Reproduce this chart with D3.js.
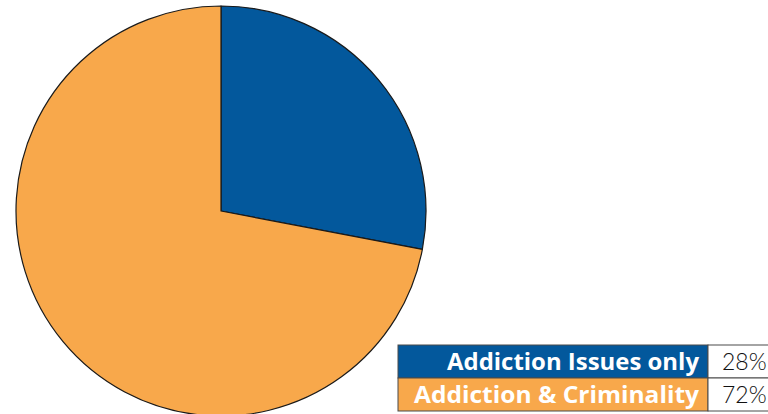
<!DOCTYPE html>
<html>
<head>
<meta charset="utf-8">
<script src="https://cdn.jsdelivr.net/npm/d3@7"></script>
<style>
  html, body { margin: 0; padding: 0; background: #fff; overflow: hidden; }
  svg { display: block; }
</style>
</head>
<body>
<svg id="chart" width="768" height="414"></svg>
<script>
// Share of cases by type
const categories = ["Addiction Issues only", "Addiction & Criminality"];
const values = [28, 72];
const valueLabels = ["28%", "72%"];
const colors = ["#03589c", "#f8a84b"];

const svg = d3.select("#chart");
const cx = 221, cy = 211, r = 205;

const pie = d3.pie().sort(null).value(d => d)(values);
const arc = d3.arc().innerRadius(0).outerRadius(r);

svg.append("g")
  .attr("transform", `translate(${cx},${cy})`)
  .selectAll("path")
  .data(pie)
  .join("path")
  .attr("d", arc)
  .attr("fill", (d, i) => colors[i])
  .attr("stroke", "#1a1a1a")
  .attr("stroke-width", 1.2)
  .attr("stroke-linejoin", "round");

// Legend table
const tx = 398, ty = 345, rowH = 33, labelW = 310, valueW = 70;
const y = d3.scaleBand().domain(categories).range([ty, ty + rowH * categories.length]);

const rows = svg.append("g").selectAll("g").data(categories).join("g")
  .attr("transform", d => `translate(0,${y(d)})`);

rows.append("rect")
  .attr("x", tx).attr("y", 0)
  .attr("width", labelW).attr("height", y.bandwidth())
  .attr("fill", (d, i) => colors[i])
  .attr("stroke", "#4a4a4a").attr("stroke-width", 1);

rows.append("rect")
  .attr("x", tx + labelW).attr("y", 0)
  .attr("width", valueW).attr("height", y.bandwidth())
  .attr("fill", "#fff")
  .attr("stroke", "#4a4a4a").attr("stroke-width", 1);

// label widths keep the wide bold face of the table
const labelWidths = [252, 285];
rows.append("text")
  .attr("x", tx + labelW - 9)
  .attr("y", 24.5)
  .attr("text-anchor", "end")
  .attr("fill", "#fff")
  .attr("font-family", "'Open Sans', sans-serif")
  .attr("font-weight", 700)
  .attr("font-size", 23)
  .attr("textLength", (d, i) => labelWidths[i])
  .attr("lengthAdjust", "spacingAndGlyphs")
  .text(d => d);

rows.append("text")
  .attr("x", tx + labelW + 14)
  .attr("y", 25)
  .attr("fill", "#111")
  .attr("font-family", "Lato, 'Open Sans', sans-serif")
  .attr("font-weight", 300)
  .attr("font-size", 23)
  .text((d, i) => valueLabels[i]);
</script>
</body>
</html>
